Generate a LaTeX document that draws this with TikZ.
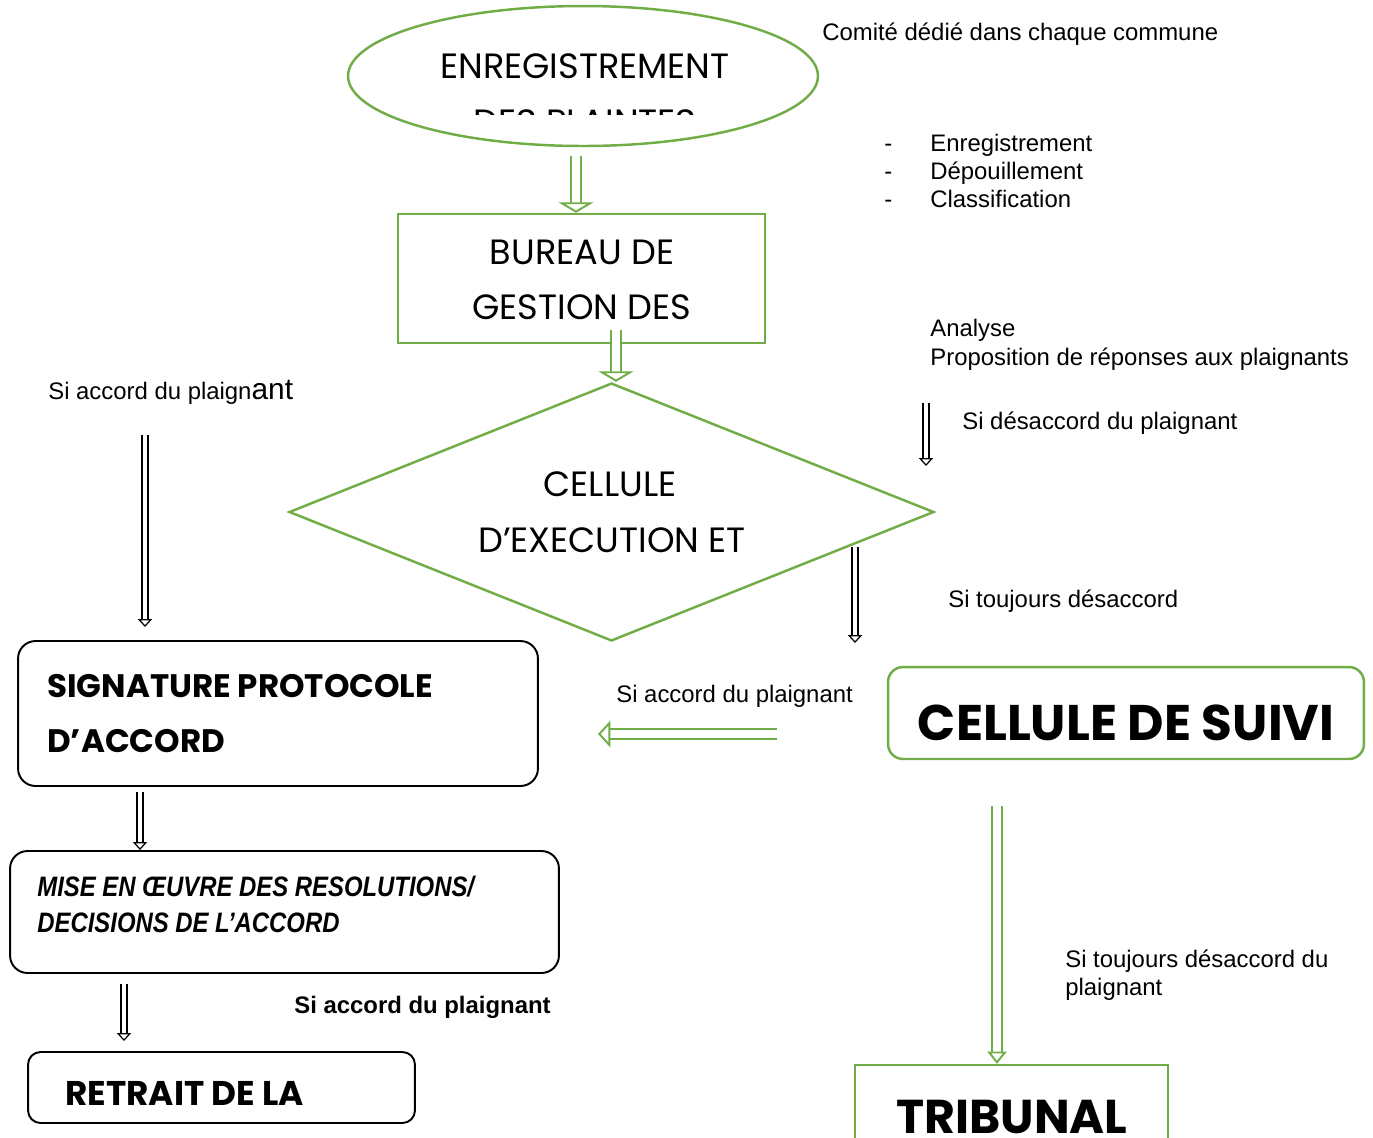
\documentclass[tikz,border=0pt]{standalone}
\usepackage{fontspec}
\setmainfont{Liberation Sans}
\newfontfamily\handfont{Poppins}
\usetikzlibrary{arrows.meta,shapes.geometric}

\definecolor{leafgreen}{RGB}{112,173,71}

\begin{document}
\begin{tikzpicture}
		[
			x=0.02cm, y=-0.02cm,
			box/.style={draw=leafgreen, line width=1.4pt, inner sep=0pt},
			rbox/.style={draw, line width=1.1pt, rounded corners=0.35cm, inner sep=0pt},
			note/.style={anchor=base west, inner sep=0pt, font=\fontsize{13.6}{16}\selectfont},
			title/.style={anchor=base, inner sep=0pt, font=\handfont\fontsize{20}{24}\selectfont},
			boldtitle/.style={anchor=base west, inner sep=0pt, font=\handfont\bfseries\fontsize{18.5}{22}\selectfont},
			garrow/.style={leafgreen, line width=1.1pt, double=white, double distance=4.4pt,
				-{Triangle[open, fill=white, length=7pt, width=15pt]}},
			wide head/.style={-{Triangle[open, fill=white, length=6pt, width=20pt]}},
			slim head/.style={-{Triangle[open, fill=white, length=7pt, width=11pt]}},
			karrow/.style={black, line width=0.7pt, double=white, double distance=2.6pt,
				-{Triangle[open, fill=white, length=4.5pt, width=8pt]}}
		]

		\clip (0,0) rectangle (1373,1137);

		% boxes
		\node[box,ellipse,minimum width=9.4cm,minimum height=2.8cm]		(enreg) at (  583,   76 ) {};
		\node[box,minimum width=7.34cm,minimum height=2.58cm]			(bureau) at ( 581.5, 278.5 ) {};
		\node[box,diamond,minimum width=12.9cm,minimum height=5.16cm]	(cellule) at ( 611.5, 512 ) {};
		\node[rbox,minimum width=10.4cm,minimum height=2.9cm]			(signature) at ( 278, 713.5 ) {};
		\node[box,rounded corners=0.3cm,minimum width=9.52cm,minimum height=1.84cm]	(suivi) at ( 1126, 713 ) {};
		\node[rbox,minimum width=10.98cm,minimum height=2.44cm]			(mise) at ( 284.5, 912 ) {};
		\node[rbox,rounded corners=0.25cm,minimum width=7.74cm,minimum height=1.42cm]	(retrait) at ( 221.5, 1087.5 ) {};
		\node[box,minimum width=6.26cm,minimum height=2.4cm]			(tribunal) at ( 1011.5, 1125 ) {};

		% box texts
		\node[title] (t-enreg) at ( 585, 78 ) {ENREGISTREMENT};
		\begin{scope}
			\clip (400,60) rectangle (760,114);
			\node[title] (t-plaintes) at ( 585, 134 ) {DES PLAINTES};
		\end{scope}
		\node[title] (t-bureau1) at ( 582, 264 ) {BUREAU DE};
		\node[title] (t-bureau2) at ( 582, 319 ) {GESTION DES};
		\node[title] (t-cellule1) at ( 610, 496 ) {CELLULE};
		\node[title] (t-cellule2) at ( 612, 552 ) {D’EXECUTION ET};
		\node[boldtitle] (t-sign1) at ( 47, 697 ) {SIGNATURE PROTOCOLE};
		\node[boldtitle] (t-sign2) at ( 47, 752 ) {D’ACCORD};
		\node[title,font=\handfont\bfseries\fontsize{28.5}{32}\selectfont] (t-suivi) at ( 1126, 740 ) {CELLULE DE SUIVI};
		\node[note,font=\bfseries\itshape\fontsize{16}{19}\selectfont] (t-mise1) at ( 37, 896 ) {\scalebox{0.85}[1]{MISE EN ŒUVRE DES RESOLUTIONS/}};
		\node[note,font=\bfseries\itshape\fontsize{16}{19}\selectfont] (t-mise2) at ( 37, 932 ) {\scalebox{0.85}[1]{DECISIONS DE L’ACCORD}};
		\node[boldtitle,font=\handfont\bfseries\fontsize{19.5}{23}\selectfont] (t-retrait) at ( 65, 1105 ) {RETRAIT DE LA};
		\node[title,font=\handfont\bfseries\fontsize{27}{30}\selectfont] (t-tribunal) at ( 1012, 1133 ) {TRIBUNAL};

		% side notes
		\node[note] (comite) at ( 822, 40 ) {Comité dédié dans chaque commune};
		\node[note] (d1) at ( 884, 151 ) {-};
		\node[note] (d2) at ( 884, 179 ) {-};
		\node[note] (d3) at ( 884, 207 ) {-};
		\node[note] (l1) at ( 930, 151 ) {Enregistrement};
		\node[note] (l2) at ( 930, 179 ) {Dépouillement};
		\node[note] (l3) at ( 930, 207 ) {Classification};
		\node[note] (analyse) at ( 930, 336 ) {Analyse};
		\node[note] (propos) at ( 930, 365 ) {Proposition de réponses aux plaignants};
		\node[note] (accord1) at ( 48, 399 ) {Si accord du plaign{\fontsize{17}{20}\selectfont ant}};
		\node[note] (desacc) at ( 962, 429 ) {Si désaccord du plaignant};
		\node[note] (toujours) at ( 948, 607 ) {Si toujours désaccord};
		\node[note] (accord2) at ( 616, 702 ) {Si accord du plaignant};
		\node[note,font=\bfseries\fontsize{13.6}{16}\selectfont] (accord3) at ( 294, 1013 ) {Si accord du plaignant};
		\node[note] (toujours2a) at ( 1065, 967 ) {Si toujours désaccord du};
		\node[note] (toujours2b) at ( 1065, 995 ) {plaignant};

		% loose arrow ends
		\coordinate (a1) at ( 576, 156 );
		\coordinate (a2) at ( 616, 330 );
		\coordinate (a3) at ( 145, 435 );
		\coordinate (b3) at ( 145, 627 );
		\coordinate (a4) at ( 926, 403 );
		\coordinate (b4) at ( 926, 466 );
		\coordinate (a5) at ( 855, 547 );
		\coordinate (b5) at ( 855, 643 );
		\coordinate (a6) at ( 777, 734 );
		\coordinate (b6) at ( 598, 734 );
		\coordinate (a7) at ( 140, 792 );
		\coordinate (a8) at ( 124, 984 );
		\coordinate (b8) at ( 124, 1041 );
		\coordinate (a9) at ( 997, 806 );

		% arrows
		\draw[garrow,wide head] (a1) -- (a1 |- bureau.north);
		\draw[garrow,wide head] (a2) -- (a2 |- cellule.north);
		\draw[garrow] (a6) -- (b6);
		\draw[garrow,slim head] (a9) -- (a9 |- tribunal.north);
		\draw[karrow] (a7) -- (a7 |- mise.north);
		\foreach \from/\to in {a3/b3, a4/b4, a5/b5, a8/b8}
		\draw[karrow] (\from) -- (\to);

	\end{tikzpicture}
\end{document}
